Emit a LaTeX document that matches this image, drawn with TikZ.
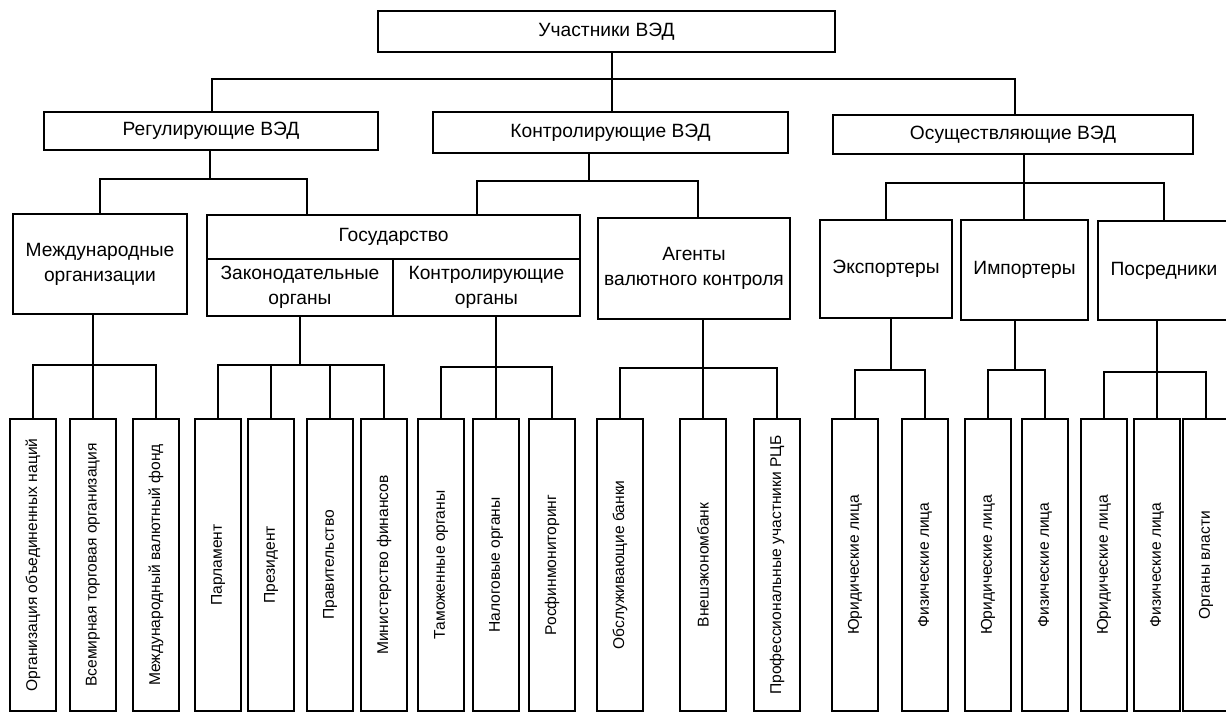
\documentclass[tikz,border=0pt]{standalone}
\usepackage{fontspec}
\setmainfont{Liberation Sans}
\usepackage{graphicx}
\usepackage{tikz}
\tikzset{
  vedbox/.style={rectangle, draw=black, line width=1.1pt, inner sep=1pt,
                 align=center, font=\fontsize{9.6}{12.5}\selectfont},
  vedleaf/.style={rectangle, draw=black, line width=1.1pt, inner sep=0pt,
                  minimum width=23pt, minimum height=146pt,
                  font=\fontsize{7.8}{9}\selectfont},
  vedw/.style={line width=0.9pt}
}
\begin{document}
\begin{tikzpicture}[x=0.5pt, y=-0.5pt]
  \useasboundingbox (0,0) rectangle (1226,716);
  \node[vedbox, minimum width=228.5pt, minimum height=20.5pt] (top) at (606.5,31.5) {Участники ВЭД};
  \node[vedbox, minimum width=167pt, minimum height=19pt] (reg) at (211,131) {Регулирующие ВЭД};
  \node[vedbox, minimum width=177.5pt, minimum height=20.5pt] (kvd) at (610.5,132.5) {Контролирующие ВЭД};
  \node[vedbox, minimum width=180pt, minimum height=19.5pt] (osu) at (1013,134.5) {Осуществляющие ВЭД};
  \node[vedbox, minimum width=87pt, minimum height=50pt] (mo) at (100,264) {Международные\\организации};
  \node[vedbox, minimum width=186.5pt, minimum height=22pt] (gos) at (393.5,237) {Государство};
  \node[vedbox, minimum width=93pt, minimum height=28.5pt] (zak) at (300,287.5) {Законодательные\\органы};
  \node[vedbox, minimum width=93.5pt, minimum height=28.5pt] (kon) at (486.5,287.5) {Контролирующие\\органы};
  \node[vedbox, minimum width=96pt, minimum height=50.5pt] (agn) at (694,268.5) {Агенты\\валютного контроля};
  \node[vedbox, minimum width=66pt, minimum height=49pt] (exp) at (886,269) {Экспортеры};
  \node[vedbox, minimum width=63.5pt, minimum height=50pt] (imp) at (1024.5,270) {Импортеры};
  \node[vedbox, minimum width=66pt, minimum height=49.5pt] (pos) at (1164,270.5) {Посредники};
  \foreach \i/\x/\t in {1/33/{Организация объединенных наций}, 2/93/{Всемирная торговая организация},
      3/156/{Международный валютный фонд}, 4/218/{Парламент}, 5/271/{Президент},
      6/330/{Правительство}, 7/384/{Министерство финансов}, 8/441/{Таможенные органы},
      9/496/{Налоговые органы}, 10/552/{Росфинмониторинг}, 11/620/{Обслуживающие банки},
      12/703/{Внешэкономбанк}, 13/777/{Профессиональные участники РЦБ},
      14/855/{Юридические лица}, 15/925/{Физические лица}, 16/988/{Юридические лица},
      17/1045/{Физические лица}, 18/1104/{Юридические лица}, 19/1157/{Физические лица},
      20/1206/{Органы власти}}
    \node[vedleaf] (l\i) at (\x,565) {\rotatebox{90}{\t}};
  \foreach \c/\cx in {reg/212, kvd/612, osu/1015}
    \draw[vedw] (top.south -| 612,0) -- (612,79) -| (\c.north -| \cx,0);
  \foreach \c/\cx in {mo/100, gos/307}
    \draw[vedw] (reg.south -| 210,0) -- (210,179) -| (\c.north -| \cx,0);
  \foreach \c/\cx in {gos/477, agn/698}
    \draw[vedw] (kvd.south -| 589,0) -- (589,181) -| (\c.north -| \cx,0);
  \foreach \c/\cx in {exp/886, imp/1024, pos/1164}
    \draw[vedw] (osu.south -| 1024,0) -- (1024,183) -| (\c.north -| \cx,0);
  \foreach \c in {l1,l2,l3}
    \draw[vedw] (mo.south -| l2) -- (l2 |- 0,365) -| (\c.north);
  \foreach \c in {l4,l5,l6,l7}
    \draw[vedw] (zak.south -| 300,0) -- (300,365) -| (\c.north);
  \foreach \c in {l8,l9,l10}
    \draw[vedw] (kon.south -| l9) -- (l9 |- 0,367) -| (\c.north);
  \foreach \c in {l11,l12,l13}
    \draw[vedw] (agn.south -| l12) -- (l12 |- 0,368) -| (\c.north);
  \foreach \c in {l14,l15}
    \draw[vedw] (exp.south -| 891,0) -- (891,370) -| (\c.north);
  \foreach \c in {l16,l17}
    \draw[vedw] (imp.south -| 1015,0) -- (1015,370) -| (\c.north);
  \foreach \c in {l18,l19,l20}
    \draw[vedw] (pos.south -| l19) -- (l19 |- 0,372) -| (\c.north);
\end{tikzpicture}
\end{document}
